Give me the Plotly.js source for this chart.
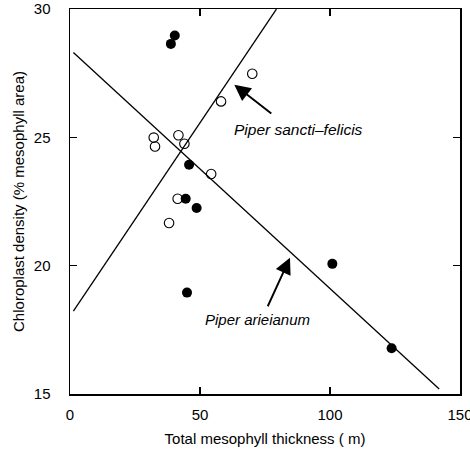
<!DOCTYPE html>
<html>
<head>
<meta charset="utf-8">
<script src="https://cdn.plot.ly/plotly-3.0.1.min.js"></script>
<style>html,body{margin:0;padding:0;background:#fff;}#chart{width:470px;height:454px;}</style>
</head>
<body>
<div id="chart"></div>
<script>
// Piper arieianum (filled circles)
const arieX = [40.3, 38.8, 45.8, 44.5, 48.7, 45.0, 100.9, 123.7];
const arieY = [28.97, 28.64, 23.93, 22.61, 22.25, 18.95, 20.07, 16.78];
// Piper sancti-felicis (open circles)
const sanctiX = [32.2, 32.7, 41.7, 44.0, 54.3, 41.4, 38.1, 58.1, 70.1];
const sanctiY = [24.99, 24.64, 25.08, 24.75, 23.57, 22.61, 21.66, 26.40, 27.48];

// Regression lines: slope, intercept and x extent
const arieFit = {slope: -0.0932, intercept: 28.43, xRange: [1.3, 142.0]};
const sanctiFit = {slope: 0.1507, intercept: 18.03, xRange: [1.3, 79.4]};

const xTicks = [0, 50, 100, 150];
const yTicks = [15, 20, 25, 30];

function fitLine(f) {
  return {x: f.xRange, y: f.xRange.map(v => f.slope * v + f.intercept)};
}
const la = fitLine(arieFit), ls = fitLine(sanctiFit);

const traces = [
  {x: la.x, y: la.y, mode: 'lines', line: {color: '#000', width: 1.3}, hoverinfo: 'skip'},
  {x: ls.x, y: ls.y, mode: 'lines', line: {color: '#000', width: 1.3}, hoverinfo: 'skip'},
  {x: sanctiX, y: sanctiY, mode: 'markers', marker: {symbol: 'circle-open', size: 9.5, color: '#000', line: {width: 1.1, color: '#000'}}},
  {x: arieX, y: arieY, mode: 'markers', marker: {symbol: 'circle', size: 10, color: '#000'}}
];

const fontFam = 'Liberation Sans, Arial, sans-serif';
const layout = {
  width: 470, height: 454,
  margin: {l: 70, r: 10, t: 9, b: 60},
  showlegend: false,
  paper_bgcolor: '#fff', plot_bgcolor: '#fff',
  font: {family: fontFam, color: '#000', size: 15},
  xaxis: {
    range: [0, 150], tickvals: xTicks, ticktext: xTicks.map(String),
    showgrid: false, zeroline: false, showline: true, linecolor: '#000', linewidth: 1.5,
    mirror: 'ticks', ticks: 'inside', ticklen: 7, tickcolor: '#000', tickwidth: 1.2,
    ticklabelstandoff: 6, ticklabeloverflow: 'allow',
    tickfont: {size: 15},
    title: {text: 'Total mesophyll thickness ( m)', font: {size: 15}, standoff: 12}
  },
  yaxis: {
    range: [15, 30], tickvals: yTicks, ticktext: yTicks.map(String),
    showgrid: false, zeroline: false, showline: true, linecolor: '#000', linewidth: 1.5,
    mirror: 'ticks', ticks: 'inside', ticklen: 7, tickcolor: '#000', tickwidth: 1.2,
    ticklabelstandoff: 15, ticklabeloverflow: 'allow',
    tickfont: {size: 15},
    title: {text: 'Chloroplast density (% mesophyll area)', font: {size: 15}, standoff: 5}
  },
  annotations: [
    {x: 63.2, y: 27.05, ax: 78.0, ay: 25.88, axref: 'x', ayref: 'y', xref: 'x', yref: 'y',
     showarrow: true, arrowhead: 2, arrowsize: 1.7, arrowwidth: 1.9, arrowcolor: '#000', text: ''},
    {x: 84.6, y: 20.31, ax: 75.8, ay: 18.36, axref: 'x', ayref: 'y', xref: 'x', yref: 'y',
     showarrow: true, arrowhead: 2, arrowsize: 1.7, arrowwidth: 1.9, arrowcolor: '#000', text: ''},
    {x: 87.7, y: 25.30, xref: 'x', yref: 'y', showarrow: false,
     text: '<i>Piper sancti\u2013felicis</i>', font: {size: 15.5, family: fontFam}},
    {x: 72.3, y: 17.9, xref: 'x', yref: 'y', showarrow: false,
     text: '<i>Piper arieianum</i>', font: {size: 15, family: fontFam}}
  ]
};
Plotly.newPlot('chart', traces, layout, {displayModeBar: false, staticPlot: true});
</script>
</body>
</html>
